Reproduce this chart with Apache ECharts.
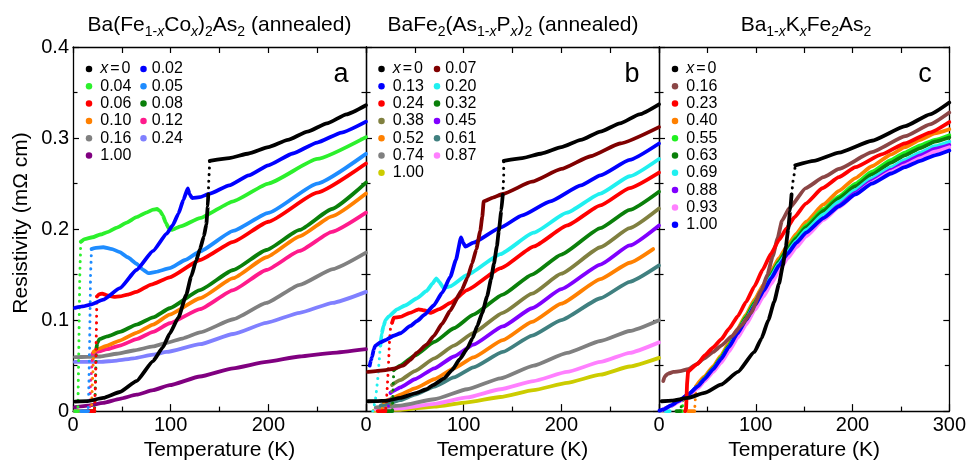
<!DOCTYPE html>
<html><head><meta charset="utf-8">
<script src="https://cdn.jsdelivr.net/npm/echarts@6.0.0/dist/echarts.min.js"></script>
<style>html,body{margin:0;padding:0;background:#fff}#c{width:969px;height:466px}</style>
</head><body><div id="c"></div>
<script>
const FONT = '"Liberation Sans", Arial, Helvetica, sans-serif';

// ---------- tick labels / axes ----------
const xTicks = [0, 100, 200, 300];
const yTicks = [0, 0.1, 0.2, 0.3, 0.4];

// ---------- Panel a: Ba(Fe1-xCox)2As2 (annealed) ----------
const a_x000_lo = [[2,0.0105],[15,0.011],[31,0.0145],[48,0.021],[65,0.033],[82,0.055],[92,0.07],[99,0.085],[108,0.103],[116,0.128],[121,0.148],[126,0.165],[130,0.178],[134,0.192],[136.5,0.205],[138,0.225],[138.5,0.238]];
const a_x000_jump = [[138.5,0.238],[139,0.252],[139.5,0.263],[140,0.275]];
const a_x000_hi = [[140,0.275],[160,0.278],[180,0.283],[200,0.29],[220,0.298],[240,0.307],[260,0.316],[280,0.326],[300,0.336]];
const a_x002 = [[2,0.1134],[10,0.115],[18,0.117],[31,0.1224],[48,0.135],[65,0.155],[82,0.176],[96,0.195],[102,0.204],[108,0.217],[113,0.232],[117.5,0.2446],[119.5,0.238],[122,0.234],[130,0.235],[140,0.239],[160,0.248],[180,0.259],[200,0.27],[225,0.283],[250,0.295],[275,0.306],[300,0.318]];
const a_x004 = [[8,0.186],[12,0.189],[20,0.191],[28,0.194],[36,0.197],[45,0.2016],[55,0.207],[65,0.213],[75,0.218],[82,0.2214],[86,0.222],[89,0.22],[92,0.215],[95,0.207],[98,0.201],[101,0.199],[110,0.203],[130,0.212],[164,0.2305],[200,0.25],[250,0.277],[300,0.301]];
const a_x004_tc = [[8,0.186],[7,0.15],[6.5,0.11],[6,0.07],[5.5,0.035],[5,0]];
const a_x004_zero = [[2,0],[5,0]];
const a_x005 = [[19,0.178],[22,0.179],[31,0.18],[40,0.178],[48,0.1746],[56,0.169],[65,0.162],[72,0.155],[77,0.1515],[85,0.153],[99,0.157],[115,0.166],[130,0.1755],[164,0.198],[200,0.2177],[250,0.25],[300,0.2826]];
const a_x005_tc = [[19,0.178],[18,0.15],[17.5,0.11],[17,0.07],[16.5,0.04],[16,0.015],[15.5,0]];
const a_x005_zero = [[8,0],[15.5,0]];
const a_x006 = [[24.5,0.126],[27,0.1285],[30,0.129],[35,0.127],[42,0.1255],[48,0.126],[56,0.128],[65,0.131],[80,0.139],[99,0.147],[130,0.166],[164,0.186],[200,0.208],[250,0.24],[300,0.272]];
const a_x006_tc = [[24.5,0.126],[24,0.092],[23.5,0.06],[23,0.03],[22,0]];
const a_x006_zero = [[10,0],[22,0]];
const a_x008 = [[24,0.069],[25,0.075],[27,0.079],[35,0.082],[48,0.087],[65,0.095],[82,0.103],[99,0.113],[130,0.133],[164,0.155],[198,0.177],[232,0.199],[265,0.222],[300,0.251]];
const a_x008_tc = [[24,0.069],[23.5,0.05],[23,0.03],[22.5,0.01],[22,0]];
const a_x008_zero = [[14,0],[22,0]];
const a_x010 = [[21,0.065],[25,0.068],[35,0.072],[48,0.0775],[65,0.086],[82,0.095],[99,0.106],[130,0.124],[164,0.146],[198,0.169],[232,0.192],[265,0.214],[300,0.239]];
const a_x010_tc = [[21,0.065],[20.5,0.045],[20,0.035],[19.5,0.02],[19,0]];
const a_x010_zero = [[6,0],[19,0]];
const a_x012 = [[20,0.063],[25,0.065],[35,0.068],[48,0.072],[65,0.079],[82,0.087],[99,0.0965],[130,0.112],[164,0.133],[198,0.155],[232,0.176],[265,0.197],[300,0.218]];
const a_x012_tc = [[20,0.063],[19,0.045],[18,0.03],[17.5,0.015],[17,0]];
const a_x012_zero = [[2,0],[17,0]];
const a_x016 = [[2,0.0594],[15,0.0595],[28,0.06],[45,0.063],[62,0.0666],[82,0.071],[96,0.075],[113,0.08],[130,0.0864],[164,0.1009],[198,0.1188],[232,0.1387],[266,0.156],[300,0.174]];
const a_x024 = [[2,0.054],[15,0.054],[28,0.054],[45,0.0555],[62,0.058],[82,0.062],[96,0.065],[130,0.0735],[164,0.0847],[198,0.097],[232,0.108],[266,0.119],[300,0.131]];
const a_x100 = [[2,0.0043],[15,0.006],[31,0.009],[48,0.0135],[65,0.018],[82,0.023],[99,0.0285],[130,0.038],[164,0.047],[198,0.054],[232,0.06],[266,0.064],[300,0.068]];

// ---------- Panel b: BaFe2(As1-xPx)2 (annealed) ----------
const b_x000_lo = [[2,0.0108],[10,0.011],[22,0.0115],[35,0.0145],[52,0.02],[62,0.024],[69,0.0288],[80,0.036],[88,0.045],[96,0.057],[103.5,0.0685],[109,0.08],[114,0.0936],[119,0.108],[124,0.126],[128,0.145],[131,0.162],[134,0.181],[136,0.198],[138.5,0.22],[140,0.2376]];
const b_x000_jump = [[140,0.2376],[140.5,0.246],[141,0.259],[141,0.2754]];
const b_x000_hi = [[141,0.275],[160,0.278],[180,0.283],[200,0.29],[220,0.298],[240,0.307],[260,0.316],[280,0.326],[300,0.337]];
const b_x007 = [[2,0.043],[10,0.044],[20,0.045],[28,0.0465],[38,0.05],[45,0.056],[52,0.064],[62,0.073],[69,0.082],[78,0.096],[86,0.11],[98,0.133],[104,0.147],[108.6,0.162],[113,0.178],[117,0.198],[119,0.213],[120.5,0.2304],[130,0.2345],[140,0.2385],[170,0.252],[200,0.266],[230,0.28],[260,0.294],[300,0.312]];
const b_x013 = [[3.8,0.05],[5,0.056],[6.2,0.0594],[8,0.068],[9.6,0.072],[14.7,0.0756],[20,0.078],[28.4,0.0828],[35.2,0.0855],[45.4,0.0936],[52.3,0.099],[60,0.106],[69.3,0.116],[78,0.13],[86.4,0.1476],[92,0.166],[97.3,0.1908],[99.5,0.185],[101.7,0.1807],[110,0.185],[137.6,0.2016],[160,0.215],[188.7,0.2304],[220,0.248],[240,0.259],[270,0.276],[300,0.294]];
const b_x020 = [[14.7,0.072],[16,0.085],[18,0.0936],[20,0.1],[23.2,0.104],[31.8,0.1117],[40,0.116],[52.3,0.124],[62,0.132],[68,0.14],[72,0.1458],[75,0.142],[79.5,0.135],[86,0.137],[103.5,0.1495],[137.6,0.1725],[171.6,0.196],[205.8,0.218],[240,0.239],[270,0.258],[300,0.277]];
const b_x020_tc = [[14.7,0.072],[13.5,0.055],[12,0.035],[10,0.015],[8,0.004],[7,0]];
const b_x024 = [[26.7,0.097],[28.4,0.1026],[35,0.1035],[45,0.108],[54,0.1117],[60,0.1105],[66,0.108],[75,0.112],[86.4,0.1188],[103.5,0.133],[138,0.157],[172,0.181],[206,0.204],[240,0.226],[270,0.245],[300,0.262]];
const b_x024_tc = [[26.7,0.097],[25,0.09],[24,0.075],[23,0.05],[22,0.03],[21,0.012],[20,0]];
const b_x024_zero = [[12,0],[20,0]];
const b_x032 = [[28.4,0.045],[35,0.05],[50,0.061],[70,0.076],[90,0.091],[110,0.106],[140,0.128],[170,0.15],[200,0.172],[240,0.201],[270,0.221],[300,0.241]];
const b_x032_tc = [[28.4,0.045],[28,0.03],[27.5,0.015],[27,0]];
const b_x032_zero = [[18,0],[27,0]];
const b_x038 = [[26.7,0.0288],[35,0.034],[50,0.044],[70,0.058],[90,0.072],[110,0.086],[140,0.108],[170,0.129],[200,0.151],[240,0.18],[270,0.201],[300,0.2225]];
const b_x038_tc = [[26.7,0.0288],[26,0.015],[25.5,0.005],[25,0]];
const b_x045 = [[25,0.02],[28,0.022],[35,0.026],[50,0.035],[70,0.047],[90,0.06],[110,0.073],[140,0.093],[170,0.113],[200,0.134],[240,0.161],[270,0.182],[300,0.204]];
const b_x045_tc = [[25,0.02],[24,0.012],[23,0.005],[22,0]];
const b_x052 = [[18,0.01],[25,0.013],[35,0.018],[50,0.025],[70,0.035],[90,0.047],[110,0.059],[140,0.078],[170,0.098],[200,0.118],[240,0.145],[270,0.163],[294,0.178]];
const b_x052_tc = [[18,0.01],[17,0.005],[16,0]];
const b_x061 = [[15,0.006],[25,0.009],[35,0.012],[50,0.018],[70,0.027],[90,0.037],[110,0.048],[140,0.065],[170,0.083],[200,0.1],[240,0.124],[270,0.142],[300,0.16]];
const b_x074 = [[10,0.004],[20,0.005],[35,0.006],[70,0.013],[103.5,0.024],[137.6,0.036],[171.6,0.05],[205.8,0.064],[240,0.077],[270,0.088],[300,0.0998]];
const b_x087 = [[10,0.002],[20,0.0025],[35,0.003],[70,0.008],[103.5,0.015],[137.6,0.024],[171.6,0.033],[205.8,0.043],[240,0.054],[270,0.064],[300,0.0755]];
const b_x100 = [[8,0.0005],[20,0.001],[35,0.0015],[70,0.005],[103.5,0.0095],[137.6,0.0155],[171.6,0.023],[205.8,0.031],[240,0.04],[270,0.049],[300,0.0585]];

// ---------- Panel c: Ba1-xKxFe2As2 ----------
const c_x000_lo = [[2.8,0.0108],[13,0.0115],[30,0.0145],[47,0.02],[64,0.029],[81.5,0.043],[98.6,0.065],[106,0.08],[113,0.1],[119,0.12],[124,0.14],[128,0.16],[131,0.18],[133.5,0.2],[135.5,0.22],[137,0.238]];
const c_x000_jump = [[137,0.238],[138.5,0.2527],[140,0.262],[140.8,0.27]];
const c_x000_hi = [[140.8,0.27],[160,0.275],[186,0.284],[220,0.297],[254.5,0.313],[280,0.326],[300,0.339]];
const c_x016 = [[4.4,0.033],[6,0.038],[9,0.041],[15,0.043],[22,0.044],[30,0.046],[38,0.051],[47,0.058],[56,0.065],[64.4,0.072],[75,0.082],[85,0.094],[95,0.108],[106,0.133],[112,0.15],[117.5,0.17],[122.6,0.19],[127,0.209],[134.6,0.223],[151.7,0.245],[170,0.257],[186,0.266],[220,0.2844],[254.5,0.302],[280,0.315],[300,0.328]];
const c_x023 = [[30,0.043],[40,0.052],[47.3,0.0612],[56,0.07],[64.4,0.079],[72,0.09],[81.5,0.1044],[90,0.12],[98.6,0.137],[107,0.155],[115.8,0.173],[124,0.188],[132,0.201],[140,0.213],[151.7,0.228],[168.8,0.2448],[186,0.257],[203,0.268],[230,0.282],[254,0.294],[280,0.306],[300,0.3175]];
const c_x023_tc = [[27,0],[28,0.003],[29,0.03],[30,0.043]];
const c_x040 = [[38,0.027],[47,0.038],[56,0.049],[64,0.061],[72,0.074],[81,0.09],[90,0.106],[99,0.123],[108,0.139],[116,0.154],[124,0.168],[133,0.182],[142,0.195],[152,0.208],[170,0.227],[186,0.242],[203,0.256],[220,0.269],[240,0.282],[254,0.29],[270,0.298],[285,0.305],[300,0.3096]];
const c_x040_tc = [[38,0.027],[37.5,0.012],[37,0.004],[36.5,0]];
const c_x040_zero = [[30,0],[36.5,0]];
const c_x055 = [[25,0.013],[30,0.017],[40,0.027],[47,0.036],[56,0.047],[64,0.059],[72,0.072],[81,0.088],[90,0.104],[99,0.12],[108,0.136],[116,0.151],[124,0.165],[133,0.179],[142,0.192],[152,0.204],[170,0.222],[186,0.236],[203,0.25],[220,0.263],[240,0.276],[254,0.284],[270,0.292],[285,0.298],[300,0.3031]];
const c_x055_tc = [[25,0.013],[24.5,0.006],[24,0]];
const c_x055_zero = [[22,0],[24,0]];
const c_x063 = [[24,0.012],[30,0.017],[40,0.027],[47,0.036],[56,0.047],[64,0.058],[72,0.071],[81,0.087],[90,0.103],[99,0.119],[108,0.135],[116,0.15],[124,0.164],[133,0.178],[142,0.19],[152,0.202],[170,0.22],[186,0.234],[203,0.247],[220,0.26],[240,0.273],[254,0.281],[270,0.289],[285,0.296],[300,0.3006]];
const c_x063_tc = [[24,0.012],[23,0.005],[22,0]];
const c_x063_zero = [[18,0],[22,0]];
const c_x069 = [[13,0.006],[20,0.011],[30,0.018],[40,0.027],[47,0.035],[56,0.046],[64,0.057],[72,0.07],[81,0.086],[90,0.101],[99,0.117],[108,0.133],[116,0.148],[124,0.162],[133,0.175],[142,0.187],[152,0.199],[170,0.216],[186,0.23],[203,0.243],[220,0.256],[240,0.268],[254,0.276],[270,0.284],[285,0.291],[300,0.296]];
const c_x069_tc = [[13,0.006],[12,0.002],[11,0]];
const c_x069_zero = [[7,0],[11,0]];
const c_x088 = [[5,0.002],[13,0.006],[20,0.011],[30,0.018],[40,0.026],[47,0.034],[56,0.044],[64,0.055],[72,0.067],[81,0.082],[90,0.097],[99,0.113],[108,0.129],[116,0.143],[124,0.157],[133,0.17],[142,0.182],[152,0.194],[170,0.212],[186,0.226],[203,0.24],[220,0.253],[240,0.265],[254,0.273],[270,0.281],[285,0.288],[300,0.2923]];
const c_x093 = [[3,0.001],[13,0.006],[20,0.01],[30,0.017],[40,0.025],[47,0.033],[56,0.043],[64,0.053],[72,0.065],[81,0.08],[90,0.095],[99,0.111],[108,0.126],[116,0.14],[124,0.154],[133,0.168],[142,0.18],[152,0.192],[170,0.21],[186,0.224],[203,0.238],[220,0.251],[240,0.263],[254,0.27],[270,0.278],[285,0.285],[300,0.2898]];
const c_x100 = [[0.5,0.0005],[5,0.002],[13,0.0065],[20,0.011],[30,0.018],[40,0.027],[47,0.035],[56,0.046],[64,0.057],[72,0.07],[81,0.085],[90,0.1],[99,0.116],[108,0.132],[116,0.146],[124,0.16],[133,0.173],[142,0.185],[152,0.196],[170,0.212],[186,0.225],[203,0.238],[220,0.25],[240,0.261],[254,0.268],[270,0.275],[285,0.281],[300,0.2862]];

// ---------- legend columns (labels) ----------
const legA1 = ['x=0','0.04','0.06','0.10','0.16','1.00'];
const legA2 = ['0.02','0.05','0.08','0.12','0.24'];
const legB1 = ['x=0','0.13','0.24','0.38','0.52','0.74','1.00'];
const legB2 = ['0.07','0.20','0.32','0.45','0.61','0.87'];
const legC1 = ['x=0','0.16','0.23','0.40','0.55','0.63','0.69','0.88','0.93','1.00'];

// ---------- curve specs (draw order) ----------
const specA = [
  {label:'1.00', color:'#800080', solid:[a_x100]},
  {label:'0.24', color:'#8080ff', solid:[a_x024]},
  {label:'0.16', color:'#808080', solid:[a_x016]},
  {label:'0.12', color:'#ff1a8c', solid:[a_x012, a_x012_zero], dotted:[a_x012_tc]},
  {label:'0.10', color:'#ff8000', solid:[a_x010, a_x010_zero], dotted:[a_x010_tc]},
  {label:'0.08', color:'#0a800a', solid:[a_x008, a_x008_zero], dotted:[a_x008_tc]},
  {label:'0.06', color:'#ff0000', solid:[a_x006, a_x006_zero], dotted:[a_x006_tc]},
  {label:'0.05', color:'#1e8cff', solid:[a_x005, a_x005_zero], dotted:[a_x005_tc]},
  {label:'0.04', color:'#2cf02c', solid:[a_x004, a_x004_zero], dotted:[a_x004_tc]},
  {label:'0.02', color:'#0000ff', solid:[a_x002]},
  {label:'x=0', color:'#000000', solid:[a_x000_lo, a_x000_hi], dotted:[a_x000_jump]}
];
const specB = [
  {label:'1.00', color:'#cccc00', solid:[b_x100]},
  {label:'0.87', color:'#ff80ff', solid:[b_x087]},
  {label:'0.74', color:'#808080', solid:[b_x074]},
  {label:'0.61', color:'#408080', solid:[b_x061]},
  {label:'0.52', color:'#ff8000', solid:[b_x052], dotted:[b_x052_tc]},
  {label:'0.45', color:'#8000ff', solid:[b_x045], dotted:[b_x045_tc]},
  {label:'0.38', color:'#808040', solid:[b_x038], dotted:[b_x038_tc]},
  {label:'0.32', color:'#0a800a', solid:[b_x032, b_x032_zero], dotted:[b_x032_tc]},
  {label:'0.24', color:'#ff0000', solid:[b_x024, b_x024_zero], dotted:[b_x024_tc]},
  {label:'0.20', color:'#20f0f0', solid:[b_x020], dotted:[b_x020_tc]},
  {label:'0.13', color:'#0000ff', solid:[b_x013]},
  {label:'0.07', color:'#800000', solid:[b_x007]},
  {label:'x=0', color:'#000000', solid:[b_x000_lo, b_x000_hi], dotted:[b_x000_jump]}
];
const specC = [
  {label:'0.40', color:'#ff8000', solid:[c_x040, c_x040_zero], dotted:[c_x040_tc]},
  {label:'0.55', color:'#20f020', solid:[c_x055, c_x055_zero], dotted:[c_x055_tc]},
  {label:'0.63', color:'#0a800a', solid:[c_x063, c_x063_zero], dotted:[c_x063_tc]},
  {label:'0.69', color:'#20f0f0', solid:[c_x069, c_x069_zero], dotted:[c_x069_tc]},
  {label:'0.88', color:'#8000ff', solid:[c_x088]},
  {label:'0.93', color:'#ff80ff', solid:[c_x093]},
  {label:'1.00', color:'#0000ff', solid:[c_x100]},
  {label:'0.16', color:'#8b4646', solid:[c_x016]},
  {label:'0.23', color:'#ff0000', solid:[c_x023, c_x023_tc]},
  {label:'x=0', color:'#000000', solid:[c_x000_lo, c_x000_hi], dotted:[c_x000_jump]}
];

// ---------- build ----------
const series = [];
function addPanel(prefix, idx, specs) {
  specs.forEach(sp => {
    const base = prefix + '|' + sp.label;
    sp.solid.forEach((seg, k) => series.push({
      type:'line', name: k === 0 ? base : base + '|s' + k,
      xAxisIndex: idx, yAxisIndex: idx, data: seg,
      symbol:'none', showSymbol:false,
      smooth: seg.length > 4 ? 0.15 : false, smoothMonotone:'x',
      color: sp.color, itemStyle:{color: sp.color},
      lineStyle:{color: sp.color, width:3.8, cap:'round', join:'round'},
      animation:false, silent:true
    }));
    (sp.dotted || []).forEach((seg, k) => series.push({
      type:'line', name: base + '|d' + k,
      xAxisIndex: idx, yAxisIndex: idx, data: seg,
      symbol:'none', showSymbol:false, smooth:false,
      color: sp.color, itemStyle:{color: sp.color},
      lineStyle:{color: sp.color, width:3, type:[0.1, 6.5], cap:'round'},
      animation:false, silent:true
    }));
  });
}
addPanel('a', 0, specA);
addPanel('b', 1, specB);
addPanel('c', 2, specC);

const grids = [
  {left:73, top:47, width:293, height:370},
  {left:366, top:47, width:293, height:370},
  {left:659, top:47, width:292, height:370}
];
const axLine = {show:true, onZero:false, lineStyle:{color:'#000', width:1.3}};
const tickStyle = {color:'#000', width:1.2};
const xAxes = [], yAxes = [];
for (let i = 0; i < 3; i++) {
  xAxes.push({
    gridIndex:i, type:'value', position:'bottom', min:xTicks[0], max:xTicks[xTicks.length-1], interval:xTicks[1]-xTicks[0],
    axisLine:axLine, splitLine:{show:false},
    axisTick:{show:true, inside:true, length:7, lineStyle:tickStyle},
    minorTick:{show:true, splitNumber:2, length:4.5, lineStyle:tickStyle},
    axisLabel:{show:true, color:'#000', fontSize:20, fontFamily:FONT, margin:4, showMinLabel:true, showMaxLabel: i === 2},
    name:'Temperature (K)', nameLocation:'middle', nameGap:27,
    nameTextStyle:{color:'#000', fontSize:21, fontFamily:FONT}
  });
}
for (let i = 0; i < 3; i++) {
  xAxes.push({
    gridIndex:i, type:'value', position:'top', min:xTicks[0], max:xTicks[xTicks.length-1], interval:xTicks[1]-xTicks[0],
    axisLine:axLine, splitLine:{show:false},
    axisTick:{show:true, inside:true, length:6, lineStyle:tickStyle},
    minorTick:{show:true, splitNumber:2, length:6, lineStyle:tickStyle},
    axisLabel:{show:false}
  });
}
for (let i = 0; i < 3; i++) {
  yAxes.push({
    gridIndex:i, type:'value', position:'left', min:yTicks[0], max:yTicks[yTicks.length-1], interval:yTicks[1]-yTicks[0],
    axisLine:axLine, splitLine:{show:false},
    axisTick:{show:true, inside:true, length:6, lineStyle:tickStyle},
    minorTick:{show:true, splitNumber:2, length:4.5, lineStyle:tickStyle},
    axisLabel:{show: i === 0, color:'#000', fontSize:20, fontFamily:FONT, margin:4}
  });
}
for (let i = 0; i < 3; i++) {
  yAxes.push({
    gridIndex:i, type:'value', position:'right', min:yTicks[0], max:yTicks[yTicks.length-1], interval:yTicks[1]-yTicks[0],
    axisLine:axLine, splitLine:{show:false},
    axisTick:{show:true, inside:true, length:6, lineStyle:tickStyle},
    minorTick:{show:true, splitNumber:2, length:4.5, lineStyle:tickStyle},
    axisLabel:{show:false}
  });
}

const LH = 17.3;
function legendCol(prefix, labels, dotCx, textPad) {
  return {
    data: labels.map(l => prefix + '|' + l),
    orient:'vertical', left: dotCx - 3.25, top: 69 - LH / 2,
    padding:0, itemGap:0, itemWidth:6.5, itemHeight:6.5, icon:'circle',
    selectedMode:false,
    formatter: name => {
      const l = name.split('|')[1];
      return l === 'x=0' ? '{it|x}{eq|=}0' : l;
    },
    textStyle:{color:'#000', fontSize:16, fontFamily:FONT, lineHeight:LH, padding:[0,0,0,textPad],
      rich:{
        it:{fontStyle:'italic', fontSize:16, fontFamily:FONT, lineHeight:LH, color:'#000'},
        eq:{fontSize:16, fontFamily:FONT, lineHeight:LH, color:'#000', padding:[0,2,0,2]}
      }}
  };
}
const legends = [
  legendCol('a', legA1, 89, 3),
  legendCol('a', legA2, 143.5, 0),
  legendCol('b', legB1, 381.5, 3),
  legendCol('b', legB2, 437, 0),
  legendCol('c', legC1, 675, 3)
];

const subRich = {
  n:{fontSize:21, fontFamily:FONT, fill:'#000', lineHeight:28, verticalAlign:'middle'},
  s:{fontSize:14, fontFamily:FONT, fill:'#000', lineHeight:28, verticalAlign:'bottom'},
  si:{fontSize:14, fontFamily:FONT, fontStyle:'italic', fill:'#000', lineHeight:28, verticalAlign:'bottom'}
};
function titleText(x, text) {
  return {type:'text', x:x, y:25, silent:true,
    style:{text:text, rich:subRich, textAlign:'center', textVerticalAlign:'middle', align:'center', verticalAlign:'middle',
      font:'21px ' + FONT, fill:'#000'}};
}
function letter(x, t) {
  return {type:'text', x:x, y:75, silent:true,
    style:{text:t, font:'27px ' + FONT, fill:'#000', textAlign:'center', textVerticalAlign:'middle', align:'center', verticalAlign:'middle'}};
}
const graphics = [
  titleText(219.5, '{n|Ba(Fe}{s|1-}{si|x}{n|Co}{si|x}{n|)}{s|2}{n|As}{s|2}{n| (annealed)}'),
  titleText(513, '{n|BaFe}{s|2}{n|(As}{s|1-}{si|x}{n|P}{si|x}{n|)}{s|2}{n| (annealed)}'),
  titleText(806, '{n|Ba}{s|1-}{si|x}{n|K}{si|x}{n|Fe}{s|2}{n|As}{s|2}'),
  letter(341, 'a'), letter(632, 'b'), letter(925, 'c'),
  {type:'text', x:21, y:223, rotation:Math.PI/2, silent:true,
    style:{text:'Resistivity (mΩ cm)', font:'21px ' + FONT, fill:'#000', textAlign:'center', textVerticalAlign:'middle', align:'center', verticalAlign:'middle'}}
];

const chart = echarts.init(document.getElementById('c'), null, {renderer:'canvas'});
chart.setOption({
  animation:false,
  backgroundColor:'#fff',
  grid: grids,
  xAxis: xAxes,
  yAxis: yAxes,
  legend: legends,
  graphic: graphics,
  series: series
});
</script></body></html>
